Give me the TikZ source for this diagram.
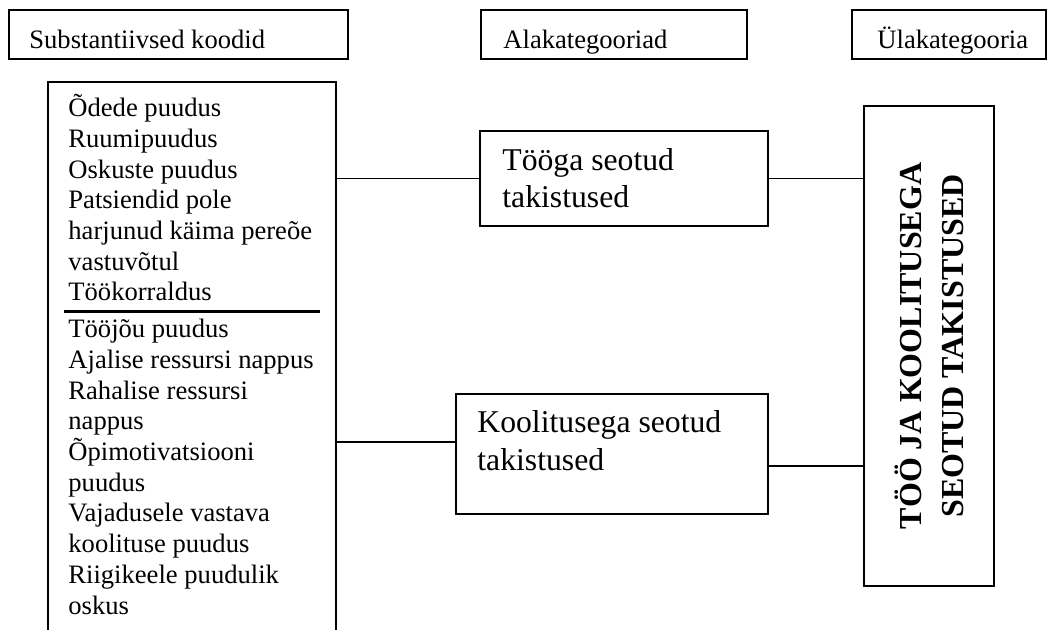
\documentclass[tikz,border=0pt]{standalone}
\usepackage{fontspec}
\setmainfont{Liberation Serif}
\usetikzlibrary{fit,calc}

\begin{document}
\begin{tikzpicture}[x=0.5pt,y=-0.5pt,
  box/.style={draw=black,line width=1pt,inner sep=0pt},
  link/.style={draw=black,line width=0.9pt},
  % multi-line text blocks are placed by the baseline of their last line
  body/.style={inner sep=0pt,anchor=base west,align=left,
    font=\fontsize{13.3}{15.35}\selectfont},
  head/.style={inner sep=0pt,anchor=base west,
    font=\fontsize{13.3}{15.35}\selectfont},
  mid/.style={inner sep=0pt,anchor=base west,align=left,
    font=\fontsize{15.85}{18.85}\selectfont},
  top/.style={inner sep=0pt,rotate=90,align=center,
    font=\bfseries\fontsize{16}{21}\selectfont}]

\useasboundingbox (0,0) rectangle (1054,630);
\fill[white] (0,0) rectangle (1054,630);
\clip (0,0) rectangle (1054,630);

% column headings
\node[box,fit={(9,10)(348,59)}] (h1) {};
\node[box,fit={(481,10)(747,59)}] (h2) {};
\node[box,fit={(852,10)(1046,59)}] (h3) {};
\node[head] (h1t) at (29,49) {Substantiivsed koodid};
\node[head] (h2t) at (503,49) {Alakategooriad};
\node[head] (h3t) at (877,49) {Ülakategooria};

% substantive codes (box runs past the lower edge)
\node[box,fit={(48,82)(336,660)}] (codes) {};
\node[body] (work) at (68,301) {Õdede puudus\\Ruumipuudus\\Oskuste puudus\\Patsiendid pole\\harjunud käima pereõe\\vastuvõtul\\Töökorraldus};
\coordinate (divl) at (64,312);
\coordinate (divr) at (320,312);
\draw[line width=1.5pt] (divl) -- (divr);
\node[body] (train) at (68,614) {Tööjõu puudus\\Ajalise ressursi nappus\\Rahalise ressursi\\nappus\\Õpimotivatsiooni\\puudus\\Vajadusele vastava\\koolituse puudus\\Riigikeele puudulik\\oskus};

% subcategories
\node[box,fit={(480,131)(768,226)}] (sub1) {};
\node[mid] (sub1t) at (502,208) {Tööga seotud\\takistused};
\node[box,fit={(456,394)(768,514)}] (sub2) {};
\node[mid] (sub2t) at (477,470) {Koolitusega seotud\\takistused};

% main category
\node[box,fit={(864,106)(994,586)}] (cat) {};
\node[top] (catt) at (929,346) {TÖÖ JA KOOLITUSEGA\\SEOTUD TAKISTUSED};

% connectors
\draw[link] (sub1.west -| codes.east) -- (sub1.west);
\draw[link] (sub1.east) -- (sub1.east -| cat.west);
\coordinate (s2l) at ($(sub2.north west)!0.4!(sub2.south west)$);
\coordinate (s2r) at ($(sub2.north east)!0.6!(sub2.south east)$);
\draw[link] (s2l -| codes.east) -- (s2l);
\draw[link] (s2r) -- (s2r -| cat.west);
\end{tikzpicture}
\end{document}
